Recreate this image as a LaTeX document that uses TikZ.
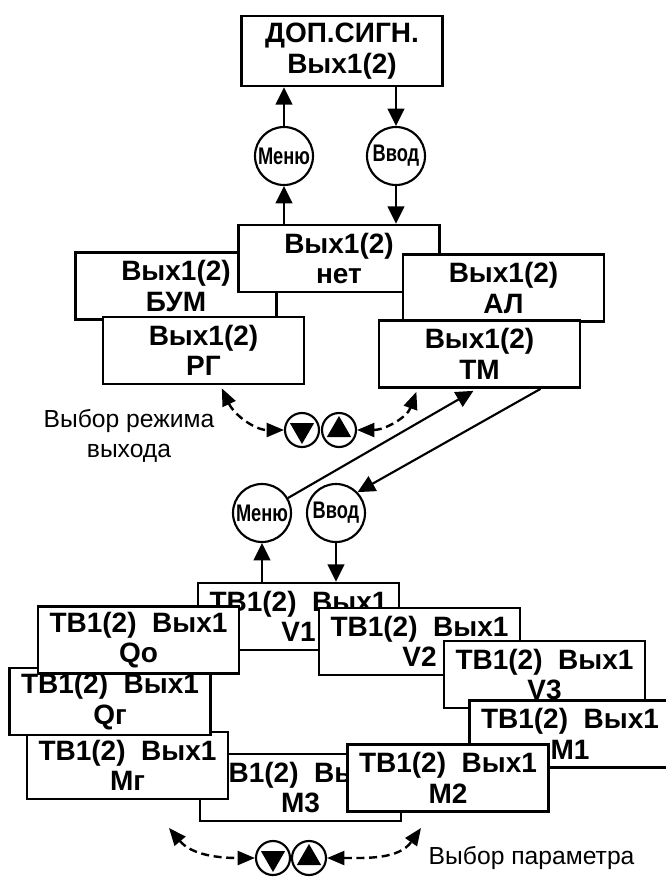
\documentclass[tikz,border=0pt]{standalone}
\usepackage{fontspec}
\usepackage{graphicx}
\setmainfont{Liberation Sans}
\usetikzlibrary{arrows.meta,calc,shapes.geometric}
\newcommand\narrowtext[1]{\scalebox{0.76}[1]{#1}}
\tikzset{
  menubox/.style={draw, line width=2pt, fill=white, minimum width=150.75pt, minimum height=50.25pt, inner sep=0pt, align=center, font=\bfseries\fontsize{21}{23}\selectfont},
  keyring/.style={draw, circle, line width=1.6pt, fill=white, minimum size=43.5pt, inner sep=0pt, font=\bfseries\fontsize{18}{18}\selectfont},
  arrowkey/.style={draw, circle, line width=1.6pt, fill=white, minimum size=25.5pt, inner sep=0pt},
  keytri/.style={regular polygon, regular polygon sides=3, fill=black, minimum size=21pt, inner sep=0pt},
  arr/.style={line width=1.6pt, -{Triangle[length=13pt,width=12.5pt]}},
  darr/.style={line width=1.8pt, dash pattern=on 6pt off 3.5pt, {Triangle[length=13pt,width=10.5pt]}-{Triangle[length=13pt,width=10.5pt]}},
  lbl/.style={align=center, font=\fontsize{18.5}{22}\selectfont},
}
\begin{document}
\begin{tikzpicture}[x=0.75pt,y=0.75pt,yscale=-1,xscale=1]
    \useasboundingbox (0,0) rectangle (666,879);
    \clip (0,0) rectangle (666,879);

    % Text Node
    \node[menubox, minimum height=52.5pt] (dop) at (342,51) {ДОП.СИГН.\\Вых1(2)};
    % Text Node
    \node[menubox] (bum) at (176,286) {Вых1(2)\\БУМ};
    % Text Node
    \node[menubox] (net) at (339,258.5) {Вых1(2)\\нет};
    % Text Node
    \node[menubox] (al) at (503.5,288) {Вых1(2)\\АЛ};
    % Text Node
    \node[menubox] (rg) at (203.5,350.5) {Вых1(2)\\РГ};
    % Text Node
    \node[menubox] (tm) at (479.5,354) {Вых1(2)\\ТМ};

    %Shape: Circle
    \node[keyring] (menu1) at (284,156) {\narrowtext{Меню}};
    %Shape: Circle
    \node[keyring] (vvod1) at (396,156) {\narrowtext{Ввод}};

    %Straight Lines
    \draw[arr] (menu1 |- net.north) -- (menu1);
    \draw[arr] (menu1) -- (menu1 |- dop.south);
    \draw[arr] (vvod1 |- dop.south) -- (vvod1);
    \draw[arr] (vvod1) -- (vvod1 |- net.north);

    %Shape: Circle
    \node[arrowkey] (dn1) at (302,430) {};
    \node[keytri, shape border rotate=180] (dn1tri) at (dn1) {};
    \node[arrowkey] (up1) at (339,430) {};
    \node[keytri] (up1tri) at (up1) {};

    %Curve Lines
    \coordinate (rgsel) at ($(rg.south west)!.59!(rg.south east)+(0,3)$);
    \coordinate (tmsel) at ($(tm.south west)!.19!(tm.south east)+(0,3)$);
    \draw[darr] (rgsel) to[out=65,in=180] (dn1);
    \draw[darr] (up1) to[out=0,in=110] (tmsel);

    % Text Node
    \node[lbl] (modelbl) at (129,436) {Выбор режима\\выхода};

    %Shape: Circle
    \node[keyring] (menu2) at (262,513) {\narrowtext{Меню}};
    %Shape: Circle
    \node[keyring] (vvod2) at (336,513) {\narrowtext{Ввод}};

    %Straight Lines
    \draw[arr] (menu2.30) -- ($(tm.south west)!.47!(tm.south east)+(0,2)$);
    \draw[arr] ($(tm.south west)!.8!(tm.south east)$) -- (vvod2.44);

    % Text Node
    \node[menubox] (v1) at (298.5,616.5) {ТВ1(2)\ \ Вых1\\V1};
    % Text Node
    \node[menubox] (v2) at (419.5,641.5) {ТВ1(2)\ \ Вых1\\V2};
    % Text Node
    \node[menubox] (v3) at (544.5,674.5) {ТВ1(2)\ \ Вых1\\V3};
    % Text Node
    \node[menubox] (m1) at (570,734) {ТВ1(2)\ \ Вых1\\M1};
    % Text Node
    \node[menubox] (m3) at (300.5,787.5) {ТВ1(2)\ \ Вых1\\M3};
    % Text Node
    \node[menubox] (m2) at (448,778) {ТВ1(2)\ \ Вых1\\M2};
    % Text Node
    \node[menubox] (mg) at (127.5,765.5) {ТВ1(2)\ \ Вых1\\Mг};
    % Text Node
    \node[menubox] (qg) at (110,701.5) {ТВ1(2)\ \ Вых1\\Qг};
    % Text Node
    \node[menubox] (qo) at (138.5,640) {ТВ1(2)\ \ Вых1\\Qo};

    %Straight Lines
    \draw[arr] (menu2 |- v1.north) -- (menu2);
    \draw[arr] (vvod2) -- (vvod2 |- v1.north);

    %Shape: Circle
    \node[arrowkey] (dn2) at (273,858) {};
    \node[keytri, shape border rotate=180] (dn2tri) at (dn2) {};
    \node[arrowkey] (up2) at (309,858) {};
    \node[keytri] (up2tri) at (up2) {};

    %Curve Lines
    \coordinate (selL) at (169,828);
    \coordinate (selR) at (421,828);
    \draw[darr] (selL) to[out=50,in=180] (dn2);
    \draw[darr] (up2) to[out=0,in=125] (selR);

    % Text Node
    \node[lbl, anchor=west] (parlbl) at (424,858) {Выбор параметра};
\end{tikzpicture}
\end{document}
